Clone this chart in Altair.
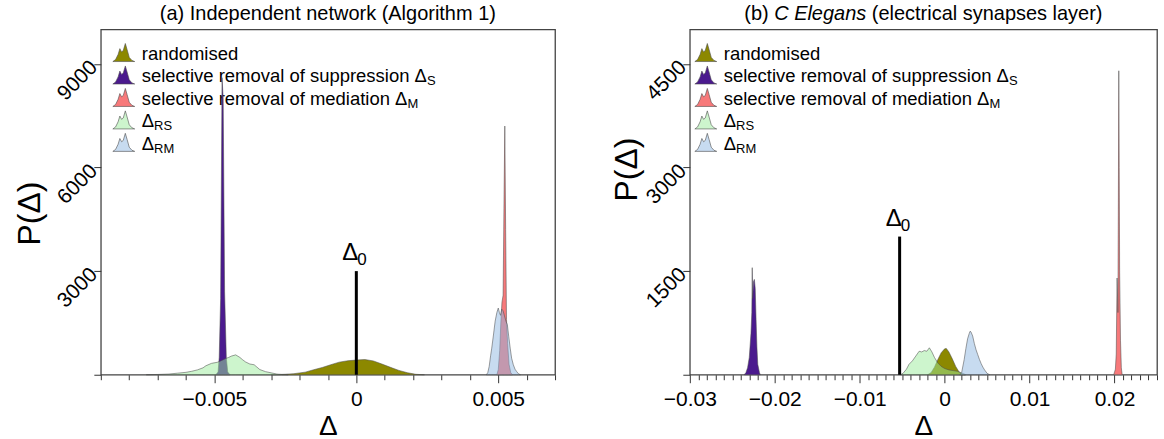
import altair as alt
import pandas as pd

FONT = "Liberation Sans"

# ---------------- panel (a): independent network (Algorithm 1) ----------------
a_rand_x = [-0.0030, -0.0028, -0.0025, -0.0022, -0.0018, -0.0015, -0.0012, -0.0009, -0.0006,
            -0.0003, 0.0000, 0.0003, 0.0006, 0.0009, 0.0012, 0.0015, 0.0018, 0.0021, 0.0024]
a_rand_y = [0, 5, 15, 30, 75, 145, 210, 290, 365, 405, 425, 440, 400, 310, 215, 125, 58, 12, 0]

a_supp_x = [-0.00495, -0.00487, -0.00483, -0.00478, -0.00473, -0.00469, -0.00464, -0.00458, -0.00453, -0.00445]
a_supp_y = [0, 80, 500, 2200, 8600, 8000, 2400, 500, 80, 0]

a_med_x = [0.00495, 0.00500, 0.00505, 0.00509, 0.00513, 0.00517, 0.00520, 0.00523, 0.00526,
           0.00529, 0.00533, 0.00538, 0.00544, 0.00550]
a_med_y = [0, 150, 700, 1500, 2100, 2300, 4800, 7200, 4200, 1600, 900, 300, 60, 0]

a_rs_x = [-0.0074, -0.0070, -0.0066, -0.0063, -0.0060, -0.0058, -0.0056, -0.0054, -0.0053, -0.0051,
          -0.0049, -0.0048, -0.0047, -0.0046, -0.0045, -0.0044, -0.00425, -0.0041, -0.0040, -0.0039,
          -0.00375, -0.0036, -0.0035, -0.0034, -0.0032, -0.0030, -0.0028, -0.0026, -0.0024]
a_rs_y = [0, 8, 20, 45, 70, 100, 140, 200, 260, 330, 360, 390, 430, 470, 500, 540, 575, 500, 430,
          370, 310, 290, 220, 150, 90, 55, 20, 5, 0]

a_rm_x = [0.00458, 0.00463, 0.00468, 0.00473, 0.00477, 0.00483, 0.00489, 0.00495, 0.00500, 0.00504,
          0.00508, 0.00512, 0.00517, 0.00522, 0.00527, 0.00532, 0.00537, 0.00542, 0.00547, 0.00553,
          0.00559, 0.00565, 0.00571, 0.00578]
a_rm_y = [0, 60, 240, 550, 770, 1150, 1550, 1800, 1930, 1800, 1720, 1900, 1850, 1700, 1550, 1450,
          1100, 770, 480, 290, 160, 90, 30, 0]

a_delta0 = 0.0
a_delta0_top = 3000

a_xdomain = [-0.009, 0.007]
a_ydomain = [0, 10000]
a_xticks = [-0.009, -0.008, -0.007, -0.006, -0.005, -0.004, -0.003, -0.002, -0.001, 0.0,
            0.001, 0.002, 0.003, 0.004, 0.005, 0.006, 0.007]
a_yticks = [0, 3000, 6000, 9000]

# ---------------- panel (b): C Elegans, electrical synapses layer ----------------
b_rand_x = [-0.0020, -0.0016, -0.0012, -0.0008, -0.0004, 0.0000, 0.0002, 0.0005, 0.0009,
            0.0013, 0.0017, 0.0021, 0.0024]
b_rand_y = [0, 30, 110, 220, 320, 375, 380, 330, 230, 120, 40, 5, 0]

b_supp_x = [-0.0236, -0.0234, -0.0232, -0.0230, -0.0228, -0.0227, -0.02265, -0.0226, -0.0225,
            -0.0224, -0.0223, -0.0222, -0.0221, -0.0220, -0.0218, -0.0217]
b_supp_y = [0, 30, 100, 250, 600, 900, 1550, 1100, 1350, 1380, 1250, 800, 400, 150, 30, 0]

b_med_x = [0.0199, 0.0201, 0.0202, 0.0203, 0.0204, 0.02045, 0.0205, 0.02055, 0.0206, 0.0207, 0.0208, 0.0209]
b_med_y = [0, 80, 300, 1400, 900, 2500, 4400, 3000, 1500, 500, 100, 0]

b_rs_x = [-0.0052, -0.0049, -0.0045, -0.0042, -0.0038, -0.0034, -0.0030, -0.0027, -0.0024, -0.0021,
          -0.0018, -0.0015, -0.0012, -0.0008, -0.0004, 0.0000, 0.0005, 0.0010, 0.0015, 0.0020, 0.0025]
b_rs_y = [0, 20, 80, 150, 200, 270, 340, 330, 350, 340, 390, 330, 250, 170, 120, 90, 70, 60, 50, 25, 0]

b_rm_x = [0.0018, 0.0020, 0.0023, 0.0025, 0.0027, 0.0029, 0.0030, 0.0031, 0.0033, 0.0035, 0.0037,
          0.0039, 0.0041, 0.0043, 0.0045, 0.0047, 0.0050, 0.0053]
b_rm_y = [0, 30, 220, 380, 520, 600, 630, 620, 560, 450, 360, 290, 220, 160, 110, 70, 20, 0]

b_delta0 = -0.0053
b_delta0_top = 2000

b_xdomain = [-0.03, 0.025]
b_ydomain = [0, 5000]
b_xticks = [round(-0.030 + 0.001 * i, 3) for i in range(56)]
b_yticks = [0, 1500, 3000, 4500]

# ---------------- shared styling ----------------
SERIES_COLORS = ["#8c8800", "#4b1a8e", "#f7797a", "#9ceb9c", "#8fb8e2"]
SERIES_OPACITY = [1.0, 1.0, 1.0, 0.5, 0.5]
LEGEND_TEXT = ["randomised", "selective removal of suppression Δ",
               "selective removal of mediation Δ", "Δ", "Δ"]
LEGEND_SUB = ["", "S", "M", "RS", "RM"]
OUTLINE = "#4d4d4d"
LEGEND_SIZE = 18.5
TITLE_SIZE = 20

# small two-humped density glyph used as the legend key
ICON = ("M-1,0.8 L-0.75,0.62 L-0.52,0.15 L-0.36,-0.38 L-0.2,-0.08 L-0.05,-0.2 "
        "L0.14,-0.85 L0.3,-0.3 L0.5,0.42 L0.75,0.7 L1,0.8 Z")

# advance widths (per 1000 em) of the sans font, for laying out mixed-style text
GLYPH_W = {" ": 278, "(": 333, ")": 333, ".": 278, "a": 556, "b": 556, "c": 500, "d": 556,
           "e": 556, "f": 278, "g": 556, "h": 556, "i": 222, "k": 500, "l": 222, "m": 833,
           "n": 556, "o": 556, "p": 556, "r": 333, "s": 500, "t": 278, "u": 556, "v": 500,
           "w": 722, "y": 500, "A": 667, "C": 722, "E": 667, "I": 278, "Δ": 668}

# outer margins around the plot areas (left, top, right, bottom)
MARGIN = (100, 28, 6, 65)


def text_width(s, size):
    return sum(GLYPH_W.get(ch, 556) for ch in s) * size / 1000.0


ONE = pd.DataFrame({"k": [0]})


def panel(series, xdom, ydom, xticks, major_every, yticks, width, height,
          ytitle_x, ytitle_y, d0_x, d0_top, title_parts, legend_left, frame_x):
    xscale = alt.Scale(domain=xdom, nice=False, zero=False)
    yscale = alt.Scale(domain=ydom, nice=False)
    major = f"abs(round(datum.value * 1000)) % {major_every} == 0"

    x_axis = alt.Axis(
        values=xticks,
        tickSize={"condition": {"test": major, "value": 8}, "value": 5},
        labelExpr=f"{major} ? replace(format(datum.value, '~g'), '-', '\u2212') : ''",
        labelFont=FONT, labelFontSize=21, labelColor="black", labelPadding=6,
        labelOverlap=False, labelFlush=False, labelBound=False,
        tickColor="#333333", tickWidth=1, domain=False, grid=False,
        title="Δ", titleFont=FONT, titleFontSize=28, titleFontWeight="normal",
        titleColor="black", titleY=60, titleBaseline="alphabetic",
    )
    y_axis = alt.Axis(
        values=yticks,
        labelExpr="datum.value == 0 ? '' : format(datum.value, 'd')",
        labelAngle=315, labelAlign="right", labelBaseline="middle",
        labelFont=FONT, labelFontSize=21, labelColor="black", labelPadding=0,
        labelOverlap=False, labelFlush=False, labelBound=False,
        tickSize=7, tickColor="#333333", tickWidth=1, domain=False, grid=False,
        title="P(Δ)", titleFont=FONT, titleFontSize=32, titleFontWeight="normal",
        titleColor="black", titleAngle=270, titleX=ytitle_x, titleY=ytitle_y,
        titleAlign="center", titleBaseline="middle",
    )
    X = lambda f: alt.X(f, scale=xscale, axis=x_axis)
    Y = lambda f: alt.Y(f, scale=yscale, axis=y_axis)

    layers = []

    # transparent frame that fixes the outer margins of the figure
    layers.append(
        alt.Chart(ONE).mark_rule(strokeOpacity=0, opacity=0).encode(
            x=alt.value(frame_x[0]), x2=alt.value(frame_x[1]),
            y=alt.value(-MARGIN[1]), y2=alt.value(height + MARGIN[3]),
        )
    )

    # legend rows
    row_y = [24.5, 47, 69.5, 92, 114.5]
    for i in range(5):
        layers.append(
            alt.Chart(ONE).mark_point(
                shape=ICON, size=480, filled=True, fill=SERIES_COLORS[i],
                fillOpacity=SERIES_OPACITY[i], stroke=OUTLINE, strokeWidth=0.6, opacity=1,
            ).encode(x=alt.value(legend_left + 11), y=alt.value(row_y[i] - 1))
        )
        layers.append(
            alt.Chart(ONE).mark_text(
                text=LEGEND_TEXT[i], align="left", baseline="middle",
                font=FONT, fontSize=LEGEND_SIZE, color="black",
            ).encode(x=alt.value(legend_left + 29), y=alt.value(row_y[i]))
        )
        if LEGEND_SUB[i]:
            layers.append(
                alt.Chart(ONE).mark_text(
                    text=LEGEND_SUB[i], align="left", baseline="middle",
                    font=FONT, fontSize=13, color="black",
                ).encode(x=alt.value(legend_left + 29 + text_width(LEGEND_TEXT[i], LEGEND_SIZE)),
                         y=alt.value(row_y[i] + 5))
            )

    # density areas
    for i, (xs, ys) in enumerate(series):
        df = pd.DataFrame({"x": xs, "y": ys})
        layers.append(
            alt.Chart(df).mark_area(
                interpolate="linear", fill=SERIES_COLORS[i], fillOpacity=SERIES_OPACITY[i],
                stroke=OUTLINE, strokeWidth=0.6, strokeOpacity=0.9, strokeJoin="round",
            ).encode(x=X("x:Q"), y=Y("y:Q"))
        )

    # observed value Δ0
    d0 = pd.DataFrame({"x": [d0_x], "y0": [0], "y1": [d0_top]})
    layers.append(
        alt.Chart(d0).mark_rule(color="black", strokeWidth=3).encode(
            x=X("x:Q"), y=Y("y0:Q"), y2="y1:Q",
        )
    )
    layers.append(
        alt.Chart(d0).mark_text(text="Δ", align="right", baseline="alphabetic", dx=2, dy=-11,
                                font=FONT, fontSize=24, color="black").encode(
            x=X("x:Q"), y=Y("y1:Q"))
    )
    layers.append(
        alt.Chart(d0).mark_text(text="0", align="left", baseline="alphabetic", dx=1, dy=-6,
                                font=FONT, fontSize=17, color="black").encode(
            x=X("x:Q"), y=Y("y1:Q"))
    )

    # panel heading, possibly mixing upright and italic runs
    total = sum(text_width(t, TITLE_SIZE) for t, _ in title_parts)
    pos = width / 2 - total / 2
    for t, italic in title_parts:
        lead = len(t) - len(t.lstrip(" "))
        layers.append(
            alt.Chart(ONE).mark_text(
                text=t.strip(" "), align="left", baseline="alphabetic", font=FONT,
                fontSize=TITLE_SIZE, fontStyle="italic" if italic else "normal", color="black",
            ).encode(x=alt.value(pos + text_width(" " * lead, TITLE_SIZE)), y=alt.value(-9))
        )
        pos += text_width(t, TITLE_SIZE)

    return alt.layer(*layers).properties(width=width, height=height)


panel_a = panel(
    [(a_rand_x, a_rand_y), (a_supp_x, a_supp_y), (a_med_x, a_med_y), (a_rs_x, a_rs_y), (a_rm_x, a_rm_y)],
    a_xdomain, a_ydomain, a_xticks, 5, a_yticks, 455, 346,
    -71, 184, a_delta0, a_delta0_top,
    [("(a) Independent network (Algorithm 1)", False)], 12, (-MARGIN[0], 0),
)
panel_b = panel(
    [(b_rand_x, b_rand_y), (b_supp_x, b_supp_y), (b_med_x, b_med_y), (b_rs_x, b_rs_y), (b_rm_x, b_rm_y)],
    b_xdomain, b_ydomain, b_xticks, 10, b_yticks, 468, 346,
    -63, 140, b_delta0, b_delta0_top,
    [("(b) ", False), ("C Elegans", True), (" (electrical synapses layer)", False)], 5,
    (0, 468 + MARGIN[2]),
)

chart = alt.hconcat(panel_a, panel_b, spacing=135, bounds="flush").properties(
    padding=0,
).configure_view(stroke="#444444", strokeWidth=1.3)

chart.save("out.html", embed_options={"renderer": "svg", "actions": False})
